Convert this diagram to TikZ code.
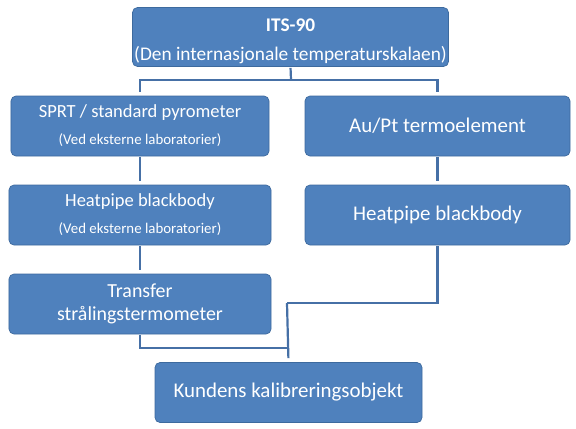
\documentclass[tikz,border=0pt]{standalone}
\usepackage{fontspec}
\setmainfont{Carlito}
\definecolor{boxblue}{HTML}{4F81BD}
\definecolor{boxedge}{HTML}{3D6A9E}
\definecolor{connblue}{HTML}{4670A6}
\begin{document}
\begin{tikzpicture}[x=1bp,y=-1bp,
  box/.style={draw=boxedge, fill=boxblue, line width=0.7bp, rounded corners=5bp,
    text=white, align=center, inner sep=0pt, minimum width=#1, minimum height=60bp},
  box/.default=260bp,
  conn/.style={draw=connblue, line width=2.2bp, shorten <=1bp, shorten >=4bp},
  big/.style={font=\fontsize{21}{24}\selectfont}]
\useasboundingbox (0,0) rectangle (576,428);

\node[box=316bp, minimum height=59bp, font=\fontsize{19.4}{29}\selectfont] (its) at (290.5,37)
  {\rule{0pt}{21bp}\textbf{ITS-90}\\(Den internasjonale temperaturskalaen)};
\node[box=258bp] (sprt) at (140,126)
  {\fontsize{18.6}{22}\selectfont SPRT / standard pyrometer\\[12bp]
   \fontsize{14.9}{16}\selectfont (Ved eksterne laboratorier)};
\node[box=262bp] (hpl) at (140,215)
  {\fontsize{18.6}{22}\selectfont Heatpipe blackbody\\[12bp]
   \fontsize{14.9}{16}\selectfont (Ved eksterne laboratorier)};
\node[box=262bp, font=\fontsize{20}{22.5}\selectfont] (tr) at (140,304)
  {Transfer\\strålingstermometer};
\node[box=265bp, big] (au) at (437.5,126) {Au/Pt termoelement};
\node[box=265bp, big] (hpr) at (437.5,215) {Heatpipe blackbody};
\node[box=267bp, big] (kund) at (288.5,392.5) {Kundens kalibreringsobjekt};

\coordinate (top) at (291,80);
\coordinate (jr) at (287,303);
\coordinate (jl) at (287,348);

\draw[conn, shorten >=0pt] (its.south) -- (top);
\draw[conn, shorten <=0pt] (top) -| (sprt.north);
\draw[conn, shorten <=0pt] (top) -| (au.north);
\draw[conn] (sprt.south) -- (hpl.north);
\draw[conn] (hpl.south) -- (tr.north);
\draw[conn] (au.south) -- (hpr.north);
\draw[conn, shorten >=0pt] (hpr.south) |- (jr);
\draw[conn, shorten <=0pt] (jr) -- (kund.north);
\draw[conn, shorten >=0pt] (tr.south) |- (jl);
\end{tikzpicture}
\end{document}
